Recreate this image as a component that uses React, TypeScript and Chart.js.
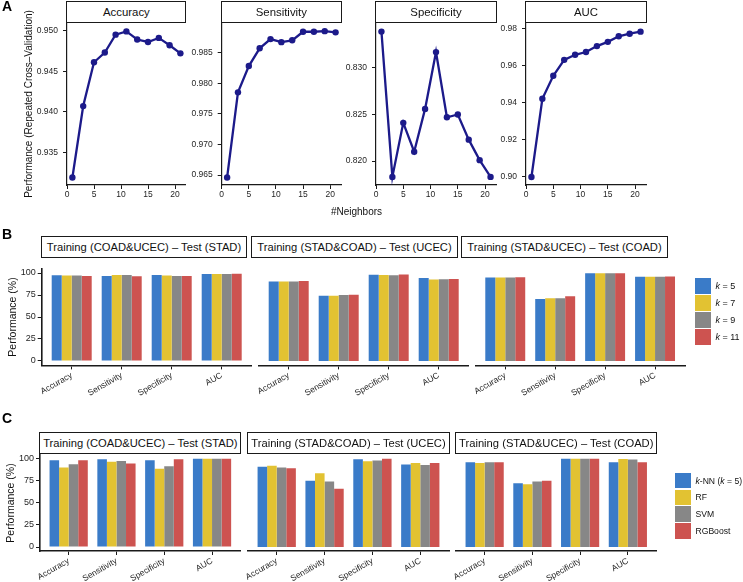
import React, { useEffect, useRef } from "react";
import { Chart, registerables } from "chart.js";

Chart.register(...registerables);

const FONT = "'Liberation Sans', Arial, Helvetica, sans-serif";
Chart.defaults.font.family = FONT;

// ---------------- Panel A: repeated cross-validation ----------------
const neighbors = [1, 3, 5, 7, 9, 11, 13, 15, 17, 19, 21];
const accuracyCV = [0.9319, 0.9407, 0.9461, 0.9473, 0.9495, 0.9499, 0.9489, 0.9486, 0.9491, 0.9482, 0.9472];
const sensitivityCV = [0.9646, 0.9785, 0.9828, 0.9857, 0.9872, 0.9867, 0.987, 0.9884, 0.9884, 0.9885, 0.9883];
const specificityCV = [0.8339, 0.8183, 0.8241, 0.821, 0.8256, 0.8317, 0.8247, 0.825, 0.8223, 0.8201, 0.8183];
const aucCV = [0.8998, 0.942, 0.9544, 0.963, 0.9657, 0.9672, 0.9704, 0.9727, 0.9757, 0.9771, 0.9782];
const neighborTicks = [0, 5, 10, 15, 20];
const accuracyTicks = [0.935, 0.94, 0.945, 0.95];
const sensitivityTicks = [0.965, 0.97, 0.975, 0.98, 0.985];
const specificityTicks = [0.82, 0.825, 0.83];
const aucTicks = [0.9, 0.92, 0.94, 0.96, 0.98];

// ---------------- Panels B & C ----------------
const metrics = ["Accuracy", "Sensitivity", "Specificity", "AUC"];
const percentTicks = [0, 25, 50, 75, 100];
const panelTitles = [
  "Training (COAD&UCEC) \u2013 Test (STAD)",
  "Training (STAD&COAD) \u2013 Test (UCEC)",
  "Training (STAD&UCEC) \u2013 Test (COAD)",
];
const kValues = ["5", "7", "9", "11"];
const modelNames = ["RF", "SVM", "RGBoost"];

// Panel B: k-NN with different k
const bStadK5 = [97.4, 96.6, 97.6, 99.0];
const bStadK7 = [97.3, 97.6, 97.2, 99.0];
const bStadK9 = [97.2, 97.6, 96.6, 99.0];
const bStadK11 = [96.6, 96.4, 96.6, 99.1];
const bUcecK5 = [90.2, 74.2, 98.0, 94.3];
const bUcecK7 = [90.2, 74.2, 97.8, 92.6];
const bUcecK9 = [90.2, 75.0, 97.4, 93.0];
const bUcecK11 = [90.9, 75.4, 98.3, 93.2];
const bCoadK5 = [94.8, 70.5, 99.6, 95.8];
const bCoadK7 = [94.8, 71.4, 99.6, 95.8];
const bCoadK9 = [95.0, 71.4, 99.6, 95.8];
const bCoadK11 = [95.2, 73.7, 99.6, 95.9];

// Panel C: model comparison
const cStadKnn = [97.7, 98.9, 97.7, 99.6];
const cStadRf = [89.5, 96.2, 88.3, 99.6];
const cStadSvm = [93.2, 97.0, 91.0, 99.6];
const cStadBoost = [97.7, 94.0, 98.9, 99.6];
const cUcecKnn = [90.6, 74.8, 98.9, 92.9];
const cUcecRf = [91.7, 83.1, 96.6, 94.7];
const cUcecSvm = [89.5, 73.7, 97.4, 92.5];
const cUcecBoost = [88.7, 65.8, 99.6, 94.7];
const cCoadKnn = [95.5, 71.8, 99.6, 95.5];
const cCoadRf = [94.7, 70.7, 99.6, 99.2];
const cCoadSvm = [95.5, 73.7, 99.6, 98.5];
const cCoadBoost = [95.5, 74.8, 99.6, 95.5];

// ---------------- styles ----------------
const NAVY = "#1c1a8a";
const AXIS = "#1a1a1a";
const TEXT = "#1f1f1f";
const BAR_COLORS = ["#3a7bc8", "#e2c232", "#878787", "#cd5350"];

Chart.defaults.color = TEXT;

type Rect = { L: number; T: number; R: number; B: number };
type Dims = { yW: number; xH: number; padTop: number; padRight: number };

function PlotCanvas(props: {
  rect: Rect;
  yW: number;
  xH: number;
  padTop?: number;
  padRight?: number;
  build: (d: Dims) => any;
}) {
  const { rect, yW, xH } = props;
  const padTop = props.padTop ?? 8;
  const padRight = props.padRight ?? 8;
  const left = Math.floor(rect.L - yW);
  const top = Math.floor(rect.T - padTop);
  const right = Math.ceil(rect.R + padRight);
  const bottom = Math.ceil(rect.B + xH);
  const dims: Dims = {
    yW: rect.L - left,
    xH: bottom - rect.B,
    padTop: rect.T - top,
    padRight: right - rect.R,
  };
  const ref = useRef<HTMLCanvasElement | null>(null);
  useEffect(() => {
    const chart = new Chart(ref.current as HTMLCanvasElement, props.build(dims));
    return () => chart.destroy();
  }, []);
  return (
    <canvas
      ref={ref}
      width={right - left}
      height={bottom - top}
      style={{ position: "absolute", left, top, width: right - left, height: bottom - top }}
    />
  );
}

function lineConfig(values: number[], yTicks: number[], yMin: number, yMax: number, decimals: number, d: Dims) {
  return {
    type: "line",
    data: {
      datasets: [
        {
          data: neighbors.map((x, i) => ({ x, y: values[i] })),
          borderColor: NAVY,
          backgroundColor: NAVY,
          borderWidth: 2.3,
          pointRadius: 3.2,
          pointHoverRadius: 3.2,
          pointBorderWidth: 0,
          pointBackgroundColor: NAVY,
          tension: 0,
          clip: false,
        },
      ],
    },
    options: {
      responsive: false,
      animation: false,
      events: [],
      layout: { padding: { left: 0, top: d.padTop, right: d.padRight, bottom: 0 } },
      plugins: { legend: { display: false }, tooltip: { enabled: false } },
      scales: {
        x: {
          type: "linear",
          min: 0,
          max: 22,
          afterBuildTicks: (s: any) => {
            s.ticks = neighborTicks.map((v) => ({ value: v }));
          },
          afterFit: (s: any) => {
            s.height = d.xH;
          },
          grid: { drawOnChartArea: false, drawTicks: true, tickLength: 4, color: AXIS, lineWidth: 1 },
          border: { display: true, color: AXIS, width: 1.2 },
          ticks: {
            color: TEXT,
            font: { size: 8.5 },
            padding: 0.5,
            autoSkip: false,
            minRotation: 0,
            maxRotation: 0,
            callback: (v: any) => String(v),
          },
        },
        y: {
          type: "linear",
          min: yMin,
          max: yMax,
          afterBuildTicks: (s: any) => {
            s.ticks = yTicks.map((v) => ({ value: v }));
          },
          afterFit: (s: any) => {
            s.width = d.yW;
          },
          grid: { drawOnChartArea: false, drawTicks: true, tickLength: 4, color: AXIS, lineWidth: 1 },
          border: { display: true, color: AXIS, width: 1.2 },
          ticks: {
            color: TEXT,
            font: { size: 8.5 },
            padding: 5,
            autoSkip: false,
            callback: (v: any) => Number(v).toFixed(decimals),
          },
        },
      },
    },
  };
}

function barConfig(series: number[][], showY: boolean, yMin: number, yMax: number, d: Dims) {
  return {
    type: "bar",
    data: {
      datasets: series.map((vals, i) => ({
        data: metrics.map((_, j) => ({ x: j + 1, y: vals[j] })),
        backgroundColor: BAR_COLORS[i],
        borderWidth: 0,
        categoryPercentage: 0.8,
        barPercentage: 1,
      })),
    },
    options: {
      responsive: false,
      animation: false,
      events: [],
      layout: { padding: { left: 0, top: d.padTop, right: d.padRight, bottom: 0 } },
      plugins: { legend: { display: false }, tooltip: { enabled: false } },
      scales: {
        x: {
          type: "linear",
          min: 0.4,
          max: 4.6,
          offset: false,
          afterBuildTicks: (s: any) => {
            s.ticks = metrics.map((_, j) => ({ value: j + 1 }));
          },
          afterFit: (s: any) => {
            s.height = d.xH;
          },
          grid: { offset: false, drawOnChartArea: false, drawTicks: true, tickLength: 4, color: AXIS, lineWidth: 1 },
          border: { display: true, color: AXIS, width: 1.6 },
          ticks: {
            color: TEXT,
            font: { size: 8.5 },
            padding: 1,
            autoSkip: false,
            minRotation: 30,
            maxRotation: 30,
            callback: (v: any) => metrics[Math.round(Number(v)) - 1] ?? "",
          },
        },
        y: {
          type: "linear",
          min: yMin,
          max: yMax,
          afterBuildTicks: (s: any) => {
            s.ticks = percentTicks.map((v) => ({ value: v }));
          },
          afterFit: (s: any) => {
            s.width = d.yW;
          },
          grid: { display: showY, drawOnChartArea: false, drawTicks: true, tickLength: 4, color: AXIS, lineWidth: 1 },
          border: { display: showY, color: AXIS, width: 1.6 },
          ticks: {
            display: showY,
            color: TEXT,
            font: { size: 9 },
            padding: 2,
            autoSkip: false,
            callback: (v: any) => String(v),
          },
        },
      },
    },
  };
}

function Strip(p: { L: number; R: number; T: number; B: number; text: string; size: number }) {
  return (
    <div
      style={{
        position: "absolute",
        left: p.L - 0.6,
        top: p.T,
        width: p.R - p.L + 1.2,
        height: p.B - p.T,
        boxSizing: "border-box",
        border: "1.3px solid #1a1a1a",
        background: "#fff",
        display: "flex",
        alignItems: "center",
        justifyContent: "center",
        fontSize: p.size,
        whiteSpace: "nowrap",
        color: "#111",
      }}
    >
      {p.text}
    </div>
  );
}

function VText(p: { cx: number; cy: number; text: string; size: number }) {
  return (
    <div
      style={{
        position: "absolute",
        left: p.cx,
        top: p.cy,
        transform: "translate(-50%, -50%) rotate(-90deg)",
        whiteSpace: "nowrap",
        fontSize: p.size,
        lineHeight: 1,
        color: "#111",
      }}
    >
      {p.text}
    </div>
  );
}

function Letter(p: { x: number; y: number; text: string }) {
  return (
    <div style={{ position: "absolute", left: p.x, top: p.y, fontSize: 14, fontWeight: 700, lineHeight: 1, color: "#000" }}>
      {p.text}
    </div>
  );
}

function LegendRow(p: { x: number; y: number; w: number; h: number; color: string; gap: number; size: number; children: any }) {
  return (
    <div style={{ position: "absolute", left: p.x, top: p.y, height: p.h, display: "flex", alignItems: "center", whiteSpace: "nowrap" }}>
      <div style={{ width: p.w, height: p.h, background: p.color }} />
      <div style={{ marginLeft: p.gap, fontSize: p.size, color: "#111" }}>{p.children}</div>
    </div>
  );
}

// layout rectangles of the plotting panels
const aT = 23.3;
const aB = 185;
const aRects: Rect[] = [
  { L: 67, R: 185.8, T: aT, B: aB },
  { L: 221.7, R: 341, T: aT, B: aB },
  { L: 376, R: 496, T: aT, B: aB },
  { L: 526, R: 646, T: aT, B: aB },
];
const bT = 268.6;
const bB = 365.4;
const bRects: Rect[] = [
  { L: 41.7, R: 251.7, T: bT, B: bB },
  { L: 258.7, R: 468.7, T: bT, B: bB },
  { L: 475.3, R: 685, T: bT, B: bB },
];
// strip boxes of row B as they appear in the figure
const bStripX = [
  [42, 246],
  [252, 457],
  [462, 667],
];
const cT = 454.3;
const cB = 551;
const cRects: Rect[] = [
  { L: 40, R: 240.7, T: cT, B: cB },
  { L: 248, R: 449, T: cT, B: cB },
  { L: 456, R: 656.5, T: cT, B: cB },
];

export default function App() {
  const aSeries = [
    { name: "Accuracy", vals: accuracyCV, ticks: accuracyTicks, min: 0.93098, max: 0.9509, dec: 3 },
    { name: "Sensitivity", vals: sensitivityCV, ticks: sensitivityTicks, min: 0.96337, max: 0.98978, dec: 3 },
    { name: "Specificity", vals: specificityCV, ticks: specificityTicks, min: 0.81743, max: 0.83479, dec: 3 },
    { name: "AUC", vals: aucCV, ticks: aucTicks, min: 0.8955, max: 0.9827, dec: 2 },
  ];
  const bSeries = [
    [bStadK5, bStadK7, bStadK9, bStadK11],
    [bUcecK5, bUcecK7, bUcecK9, bUcecK11],
    [bCoadK5, bCoadK7, bCoadK9, bCoadK11],
  ];
  const cSeries = [
    [cStadKnn, cStadRf, cStadSvm, cStadBoost],
    [cUcecKnn, cUcecRf, cUcecSvm, cUcecBoost],
    [cCoadKnn, cCoadRf, cCoadSvm, cCoadBoost],
  ];
  return (
    <div
      style={{
        position: "absolute",
        left: 0,
        top: 0,
        width: 743,
        height: 582,
        background: "#fff",
        overflow: "hidden",
        fontFamily: FONT,
      }}
    >
      {/* Panel A */}
      {aSeries.map((s, i) => (
        <PlotCanvas
          key={"a" + i}
          rect={aRects[i]}
          yW={40}
          xH={18}
          padTop={10}
          padRight={8}
          build={(d) => lineConfig(s.vals, s.ticks, s.min, s.max, s.dec, d)}
        />
      ))}
      {aSeries.map((s, i) => (
        <Strip key={"as" + i} L={aRects[i].L} R={aRects[i].R} T={1} B={aT} text={s.name} size={11.4} />
      ))}
      <VText cx={28.5} cy={(aT + aB) / 2} text={"Performance (Repeated Cross\u2013Validation)"} size={10} />
      <div style={{ position: "absolute", left: 356.5, top: 210.7, transform: "translate(-50%, -50%)", fontSize: 10, color: "#111", whiteSpace: "nowrap" }}>
        #Neighbors
      </div>
      <Letter x={2} y={-1} text="A" />

      {/* Panel B */}
      {bSeries.map((ser, i) => (
        <PlotCanvas
          key={"b" + i}
          rect={bRects[i]}
          yW={30}
          xH={42}
          padTop={8}
          padRight={8}
          build={(d) => barConfig(ser, i === 0, -5, 105, d)}
        />
      ))}
      {panelTitles.map((t, i) => (
        <Strip key={"bs" + i} L={bStripX[i][0]} R={bStripX[i][1]} T={236} B={258} text={t} size={11.2} />
      ))}
      <VText cx={12} cy={(bT + bB) / 2} text="Performance (%)" size={10.5} />
      {kValues.map((k, i) => (
        <LegendRow key={"bl" + i} x={695} y={278.3 + i * 17} w={15.5} h={15.5} gap={5} size={9} color={BAR_COLORS[i]}>
          <i>k</i> = {k}
        </LegendRow>
      ))}
      <Letter x={2} y={227} text="B" />

      {/* Panel C */}
      {cSeries.map((ser, i) => (
        <PlotCanvas
          key={"c" + i}
          rect={cRects[i]}
          yW={30}
          xH={30}
          padTop={8}
          padRight={8}
          build={(d) => barConfig(ser, i === 0, -4.5, 104.5, d)}
        />
      ))}
      {panelTitles.map((t, i) => (
        <Strip key={"cs" + i} L={cRects[i].L} R={cRects[i].R} T={432} B={453.8} text={t} size={11.2} />
      ))}
      <VText cx={10} cy={(cT + cB) / 2} text="Performance (%)" size={10.5} />
      <LegendRow x={675} y={472.7} w={16} h={15.8} gap={4.5} size={8.6} color={BAR_COLORS[0]}>
        <i>k</i>-NN (<i>k</i> = 5)
      </LegendRow>
      {modelNames.map((m, i) => (
        <LegendRow key={"cl" + i} x={675} y={472.7 + (i + 1) * 16.8} w={16} h={15.8} gap={4.5} size={8.6} color={BAR_COLORS[i + 1]}>
          {m}
        </LegendRow>
      ))}
      <Letter x={2} y={411} text="C" />
    </div>
  );
}
